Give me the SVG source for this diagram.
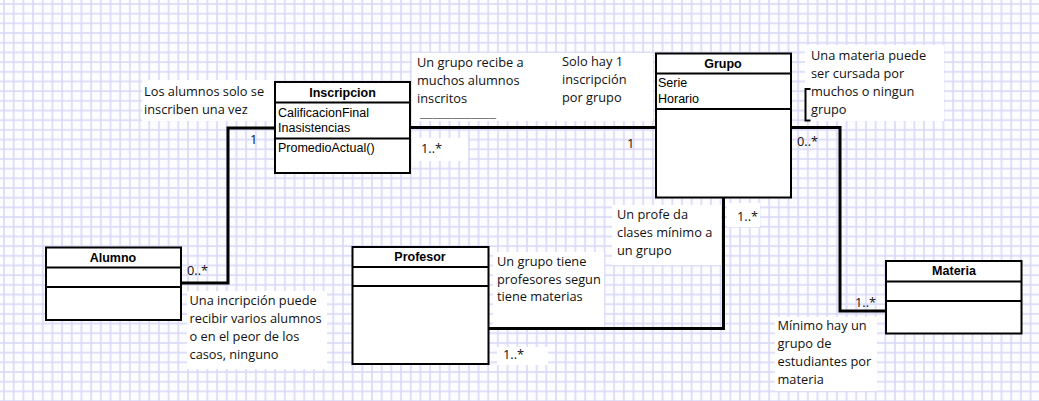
<svg xmlns="http://www.w3.org/2000/svg" width="1039" height="401" viewBox="0 0 1039 401">
  <style>
    .box { fill: #ffffff; stroke: #000000; stroke-width: 2; }
    .div { stroke: #000000; stroke-width: 2; }
    .title { font-family: "Liberation Sans", Arial, sans-serif; font-size: 12.5px; font-weight: bold; text-anchor: middle; fill: #000000; }
    .attr { font-family: "Liberation Sans", Arial, sans-serif; font-size: 12.5px; fill: #000000; }
    .note { font-family: "Open Sans", "Noto Sans", sans-serif; font-size: 12.8px; fill: #111111; }
    .rule { font-family: "Open Sans", "Noto Sans", sans-serif; font-size: 9px; fill: #111111; }
    .paper { fill: #ffffff; }
    .conn { fill: none; stroke: #000000; stroke-width: 3; }
  </style>
  <defs>
    <!-- graph-paper background -->
    <pattern id="grid" patternUnits="userSpaceOnUse" x="3" y="3" width="9.685" height="9.685">
      <rect width="9.685" height="9.685" fill="#fdfdff"/>
      <line x1="1" y1="0" x2="1" y2="9.685" stroke="#d9d9f9" stroke-width="1.6"/>
      <line x1="0" y1="1" x2="9.685" y2="1" stroke="#d9d9f9" stroke-width="1.6"/>
    </pattern>
  </defs>

  <rect x="0" y="0" width="1039" height="401" fill="url(#grid)"/>

  <!-- notes -->
  <g id="note-alumnos-una-vez">
    <rect class="paper" x="142" y="80" width="133" height="41"/>
    <text class="note" x="144" y="96">Los alumnos solo se</text>
    <text class="note" x="144" y="113.5">inscriben una vez</text>
  </g>
  <g id="note-grupo-recibe">
    <rect class="paper" x="412" y="53" width="144" height="68"/>
    <text class="note" x="417" y="66.5">Un grupo recibe a</text>
    <text class="note" x="417" y="84.5">muchos alumnos</text>
    <text class="note" x="417" y="102.5">inscritos</text>
    <text class="rule" x="420" y="117" textLength="76" lengthAdjust="spacingAndGlyphs">____________</text>
  </g>
  <g id="note-solo-hay-1">
    <rect class="paper" x="556" y="53" width="97" height="68"/>
    <text class="note" x="562" y="66">Solo hay 1</text>
    <text class="note" x="562" y="84">inscripción</text>
    <text class="note" x="562" y="101.5">por grupo</text>
  </g>
  <g id="note-materia-cursada">
    <rect class="paper" x="805" y="45" width="139" height="76"/>
    <text class="note" x="811" y="60">Una materia puede</text>
    <text class="note" x="811" y="78">ser cursada por</text>
    <text class="note" x="811" y="96">muchos o ningun</text>
    <text class="note" x="811" y="113.5">grupo</text>
    <path d="M810.5,89 H805.5 V120.5 H810.5" fill="none" stroke="#000000" stroke-width="2"/>
  </g>
  <g id="note-incripcion-alumnos">
    <rect class="paper" x="187" y="291" width="140" height="78"/>
    <text class="note" x="189.5" y="305">Una incripción puede</text>
    <text class="note" x="189.5" y="323">recibir varios alumnos</text>
    <text class="note" x="189.5" y="341">o en el peor de los</text>
    <text class="note" x="189.5" y="359">casos, ninguno</text>
  </g>
  <g id="note-grupo-profesores">
    <rect class="paper" x="493" y="252" width="111" height="75"/>
    <text class="note" x="497" y="266">Un grupo tiene</text>
    <text class="note" x="497" y="283.5">profesores segun</text>
    <text class="note" x="497" y="301">tiene materias</text>
  </g>
  <g id="note-profe-minimo">
    <rect class="paper" x="612" y="205" width="109" height="60"/>
    <text class="note" x="617" y="219">Un profe da</text>
    <text class="note" x="617" y="237">clases mínimo a</text>
    <text class="note" x="617" y="254.5">un grupo</text>
  </g>
  <g id="note-minimo-grupo">
    <rect class="paper" x="775" y="317" width="102" height="74"/>
    <text class="note" x="777.5" y="330">Mínimo hay un</text>
    <text class="note" x="777.5" y="348">grupo de</text>
    <text class="note" x="777.5" y="366">estudiantes por</text>
    <text class="note" x="777.5" y="383.5">materia</text>
  </g>

  <!-- associations and multiplicities -->
  <g id="connectors">
    <path class="conn" d="M181,283 H228 V128 H275"/>
    <path class="conn" d="M410,127.5 H656"/>
    <path class="conn" d="M791,127.5 H840 V311 H886"/>
    <path class="conn" d="M488.5,328.5 H723.5 V197.5"/>

    <rect class="paper" x="412" y="138" width="56" height="23"/>
    <rect class="paper" x="497" y="347" width="51" height="18"/>
    <rect class="paper" x="727" y="203" width="33" height="24"/>

    <text class="note" x="250" y="144">1</text>
    <text class="note" x="187" y="275">0..*</text>
    <text class="note" x="421" y="153">1..*</text>
    <text class="note" x="627" y="148">1</text>
    <text class="note" x="797" y="146">0..*</text>
    <text class="note" x="737" y="221">1..*</text>
    <text class="note" x="503" y="359">1..*</text>
    <text class="note" x="855" y="307">1..*</text>
  </g>

  <!-- classes -->
  <g id="inscripcion">
    <rect class="box" x="275" y="82" width="135" height="91"/>
    <line class="div" x1="275" y1="102.5" x2="410" y2="102.5"/>
    <line class="div" x1="275" y1="138.5" x2="410" y2="138.5"/>
    <text class="title" x="342.5" y="96.5">Inscripcion</text>
    <text class="attr" x="278" y="116.5">CalificacionFinal</text>
    <text class="attr" x="278" y="131.5">Inasistencias</text>
    <text class="attr" x="278" y="152">PromedioActual()</text>
  </g>
  <g id="grupo">
    <rect class="box" x="656" y="53.5" width="135" height="144"/>
    <line class="div" x1="656" y1="73.5" x2="791" y2="73.5"/>
    <line class="div" x1="656" y1="109" x2="791" y2="109"/>
    <text class="title" x="723" y="67.5">Grupo</text>
    <text class="attr" x="658" y="87">Serie</text>
    <text class="attr" x="658" y="102.5">Horario</text>
  </g>
  <g id="alumno">
    <rect class="box" x="46" y="247.5" width="135" height="72.5"/>
    <line class="div" x1="46" y1="267.5" x2="181" y2="267.5"/>
    <line class="div" x1="46" y1="287" x2="181" y2="287"/>
    <text class="title" x="113" y="261.5">Alumno</text>
  </g>
  <g id="profesor">
    <rect class="box" x="352.5" y="247" width="136" height="117"/>
    <line class="div" x1="352.5" y1="267" x2="488.5" y2="267"/>
    <line class="div" x1="352.5" y1="286" x2="488.5" y2="286"/>
    <text class="title" x="420" y="261">Profesor</text>
  </g>
  <g id="materia">
    <rect class="box" x="886" y="261" width="135.5" height="72.5"/>
    <line class="div" x1="886" y1="281.5" x2="1021.5" y2="281.5"/>
    <line class="div" x1="886" y1="301" x2="1021.5" y2="301"/>
    <text class="title" x="954" y="275">Materia</text>
  </g>
</svg>
